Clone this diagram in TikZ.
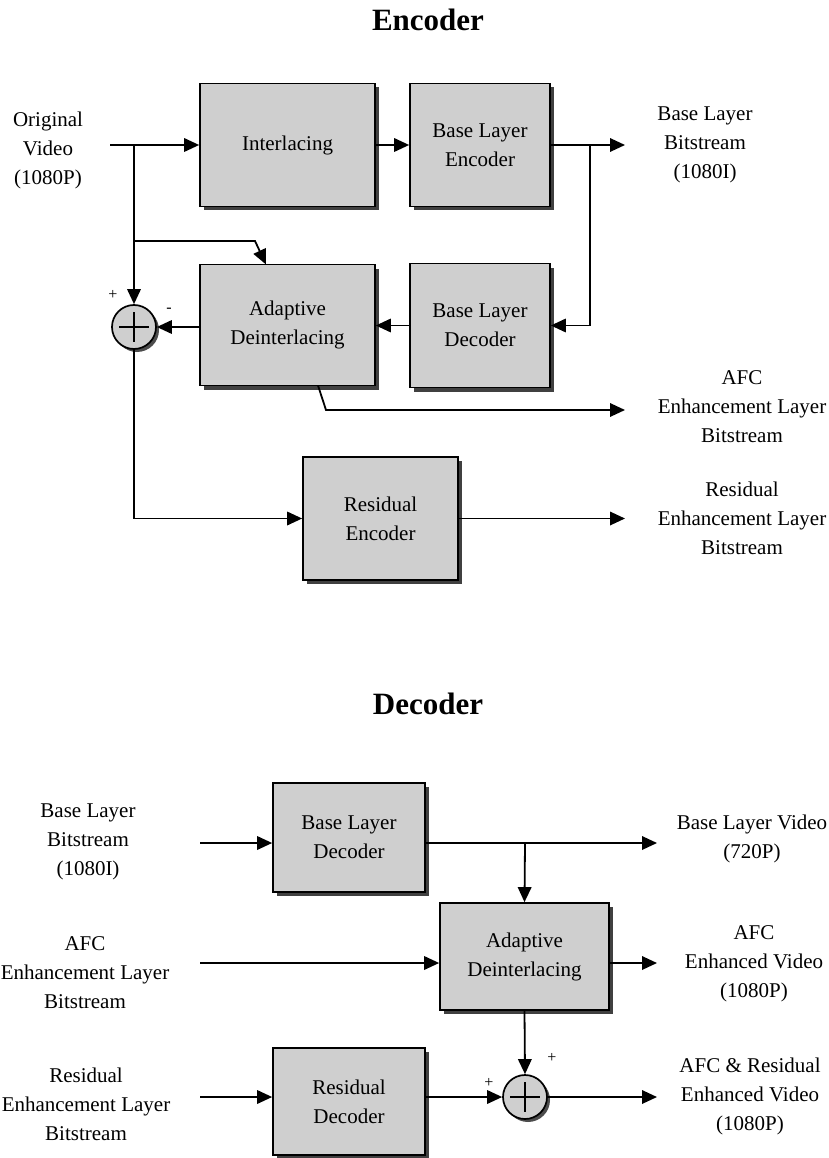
\documentclass[tikz,border=0pt]{standalone}
\usepackage{fontspec}
\setmainfont{Liberation Serif}
\usetikzlibrary{arrows.meta,shadows,calc}
\begin{document}
\begin{tikzpicture}[x=1pt,y=-1pt,
  font=\fontsize{21}{29}\selectfont,
  blk/.style={draw=black,line width=1.7pt,fill=black!19,rectangle,inner sep=0pt,align=center,
    drop shadow={shadow xshift=4pt,shadow yshift=-4pt,fill=black!75,opacity=1}},
  sumc/.style={draw=black,line width=1.7pt,fill=black!19,circle,minimum size=44pt,inner sep=0pt,
    drop shadow={shadow xshift=3pt,shadow yshift=-3pt,fill=black!70,opacity=1}},
  lbl/.style={align=center,inner sep=0pt},
  sgn/.style={inner sep=0pt,font=\fontsize{16}{16}\selectfont},
  ttl/.style={inner sep=0pt,font=\fontsize{31}{36}\selectfont\bfseries},
  arr/.style={line width=1.8pt,-{Triangle[length=15pt,width=13.5pt]}},
  ln/.style={line width=1.8pt}]
\useasboundingbox (0,0) rectangle (828,1158);

% ---------------- Encoder ----------------
\node[ttl] (tenc) at (428,20) {Encoder};

\node[blk,minimum width=175pt,minimum height=123pt] (inter) at (287.5,145) {Interlacing};
\node[blk,minimum width=140pt,minimum height=123pt] (ble) at (480,145) {Base Layer\\Encoder};
\node[blk,minimum width=175pt,minimum height=121pt] (adi) at (287.5,325) {Adaptive\\Deinterlacing};
\node[blk,minimum width=140pt,minimum height=124pt] (bld) at (480,325.5) {Base Layer\\Decoder};
\node[blk,minimum width=155pt,minimum height=123pt] (renc) at (380.5,518.5) {Residual\\Encoder};
\node[sumc] (sum1) at (134,327) {};
\draw[line width=1.5pt] ($(sum1.center)+(-15,0)$) -- ($(sum1.center)+(15,0)$)
  ($(sum1.center)+(0,-15)$) -- ($(sum1.center)+(0,15)$);
\node[sgn] (p1) at (113,295) {+};
\node[sgn] (m1) at (169,310) {-};

\node[lbl] (lorig) at (48,150) {Original\\Video\\(1080P)};
\node[lbl] (lblb) at (705,145) {Base Layer\\Bitstream\\(1080I)};
\node[lbl] (lafc) at (742,407) {AFC\\Enhancement Layer\\Bitstream};
\node[lbl] (lres) at (742,518) {Residual\\Enhancement Layer\\Bitstream};

\coordinate (in1) at (110,145);
\coordinate (s0) at (134,145);
\coordinate (s1) at (134,241);
\coordinate (k1) at (255,241);
\coordinate (k2) at (266,264.5);
\coordinate (b1) at (590,145);
\coordinate (out1) at (625,145);
\coordinate (a1) at (318,385.5);
\coordinate (a2) at (326,410);
\coordinate (out2) at (625,410);
\coordinate (out3) at (625,518.5);

\draw[arr] (in1) -- (inter.west);
\draw[arr] (inter.east) -- (ble.west);
\draw[arr] (ble.east) -- (out1);
\draw[arr] (b1) |- (bld.east);
\draw[arr] (bld.west) -- (bld.west -| adi.east);
\draw[arr] (adi.west |- sum1.east) -- (sum1.east);
\draw[arr] (s0) -- (sum1.north);
\draw[arr] (s1) -- (k1) -- (k2);
\draw[arr] (sum1.south) |- (renc.west);
\draw[arr] (renc.east) -- (out3);
\draw[arr] (a1) -- (a2) -- (out2);

% ---------------- Decoder ----------------
\node[ttl] (tdec) at (428,704) {Decoder};

\node[blk,minimum width=152pt,minimum height=109pt] (dbld) at (349,837.5) {Base Layer\\Decoder};
\node[blk,minimum width=169pt,minimum height=107pt] (dadi) at (524.5,956.5) {Adaptive\\Deinterlacing};
\node[blk,minimum width=152pt,minimum height=107pt] (drd) at (349,1101.5) {Residual\\Decoder};
\node[sumc] (sum2) at (525,1097) {};
\draw[line width=1.5pt] ($(sum2.center)+(-15,0)$) -- ($(sum2.center)+(15,0)$)
  ($(sum2.center)+(0,-15)$) -- ($(sum2.center)+(0,15)$);
\node[sgn] (p2) at (552,1058) {+};
\node[sgn] (p3) at (489,1083) {+};

\node[lbl] (dl1) at (88,842) {Base Layer\\Bitstream\\(1080I)};
\node[lbl] (dl2) at (85,973) {AFC\\Enhancement Layer\\Bitstream};
\node[lbl] (dl3) at (86,1104) {Residual\\Enhancement Layer\\Bitstream};
\node[lbl] (dr1) at (752,839) {Base Layer Video\\(720P)};
\node[lbl] (dr2) at (754,964) {AFC\\Enhanced Video\\(1080P)};
\node[lbl] (dr3) at (750,1096) {AFC \& Residual\\Enhanced Video\\(1080P)};

\coordinate (di1) at (200,843);
\coordinate (di2) at (200,963);
\coordinate (di3) at (200,1097);
\coordinate (dbr) at (525,843);
\coordinate (do1) at (657,843);
\coordinate (do2) at (657,963);
\coordinate (do3) at (657,1097);

\draw[arr] (di1) -- (di1 -| dbld.west);
\draw[ln] (di1 -| dbld.east) -- (dbr);
\draw[arr] (dbr) -- (do1);
\draw[arr] (dbr) -- (dadi.north);
\draw[arr] (di2) -- (di2 -| dadi.west);
\draw[arr] (di2 -| dadi.east) -- (do2);
\draw[arr] (dadi.south) -- (sum2.north);
\draw[arr] (di3) -- (di3 -| drd.west);
\draw[arr] (di3 -| drd.east) -- (sum2.west);
\draw[arr] (sum2.east) -- (do3);
\end{tikzpicture}
\end{document}
